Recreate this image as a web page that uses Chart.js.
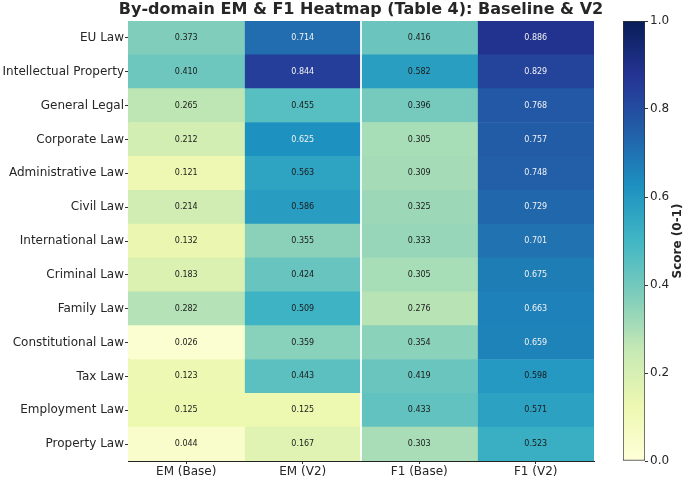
<!DOCTYPE html>
<html>
<head>
<meta charset="utf-8">
<script src="https://cdn.jsdelivr.net/npm/chart.js@4.4.0/dist/chart.umd.min.js"></script>
<style>
  body { margin: 0; background: #fff; }
  #wrap { position: relative; width: 685px; height: 479px; }
  #heat { position: absolute; left: 0; top: 0; }
  #cbar { position: absolute; left: 595px; top: 0; }
</style>
</head>
<body>
<div id="wrap">
  <canvas id="heat" width="685" height="479"></canvas>
  <canvas id="cbar" width="90" height="479"></canvas>
</div>
<script>
// data
const domains = ["EU Law", "Intellectual Property", "General Legal", "Corporate Law",
  "Administrative Law", "Civil Law", "International Law", "Criminal Law", "Family Law",
  "Constitutional Law", "Tax Law", "Employment Law", "Property Law"];
const colLabels = ["EM (Base)", "EM (V2)", "F1 (Base)", "F1 (V2)"];
const emBase = [0.373, 0.410, 0.265, 0.212, 0.121, 0.214, 0.132, 0.183, 0.282, 0.026, 0.123, 0.125, 0.044];
const emV2   = [0.714, 0.844, 0.455, 0.625, 0.563, 0.586, 0.355, 0.424, 0.509, 0.359, 0.443, 0.125, 0.167];
const f1Base = [0.416, 0.582, 0.396, 0.305, 0.309, 0.325, 0.333, 0.305, 0.276, 0.354, 0.419, 0.433, 0.303];
const f1V2   = [0.886, 0.829, 0.768, 0.757, 0.748, 0.729, 0.701, 0.675, 0.663, 0.659, 0.598, 0.571, 0.523];
const columns = [emBase, emV2, f1Base, f1V2];
const cbarTicks = [0, 0.2, 0.4, 0.6, 0.8, 1.0];

const FONT = "'DejaVu Sans', sans-serif";
const TXT = '#262626';

// YlGnBu colormap
const ylgnbu = ['#ffffd9', '#edf8b1', '#c7e9b4', '#7fcdbb', '#41b6c4', '#1d91c0', '#225ea8', '#253494', '#081d58'];
function hex2rgb(h) {
  return [parseInt(h.slice(1, 3), 16), parseInt(h.slice(3, 5), 16), parseInt(h.slice(5, 7), 16)];
}
function cmap(v) {
  const t = Math.min(Math.max(v, 0), 1) * (ylgnbu.length - 1);
  const i = Math.min(Math.floor(t), ylgnbu.length - 2);
  const f = t - i;
  const a = hex2rgb(ylgnbu[i]), b = hex2rgb(ylgnbu[i + 1]);
  const c = a.map((x, k) => Math.round(x + (b[k] - x) * f));
  return `rgb(${c[0]},${c[1]},${c[2]})`;
}

// cell value labels
const cellText = {
  id: 'cellText',
  afterDatasetsDraw(chart) {
    const ctx = chart.ctx;
    ctx.save();
    ctx.font = '8px ' + FONT;
    ctx.textAlign = 'center';
    ctx.textBaseline = 'middle';
    chart.data.datasets.forEach((ds, j) => {
      chart.getDatasetMeta(j).data.forEach((bar, i) => {
        const v = ds.values[i];
        const p = bar.getCenterPoint();
        ctx.fillStyle = v > 0.6 ? '#f2f2f2' : '#1a1a1a';
        ctx.fillText(v.toFixed(3), p.x, p.y);
      });
    });
    ctx.restore();
  }
};

// white divider between EM and F1 blocks
const divider = {
  id: 'divider',
  afterDatasetsDraw(chart) {
    const ctx = chart.ctx, a = chart.chartArea;
    const x = chart.scales.x.getPixelForValue(2);
    ctx.save();
    ctx.strokeStyle = 'rgba(255,255,255,0.9)';
    ctx.lineWidth = 2;
    ctx.beginPath();
    ctx.moveTo(x, a.top);
    ctx.lineTo(x, a.bottom);
    ctx.stroke();
    ctx.restore();
  }
};

// title centred over the plot area (not the whole canvas)
const plotTitle = {
  id: 'plotTitle',
  afterDraw(chart) {
    const ctx = chart.ctx, a = chart.chartArea;
    ctx.save();
    ctx.font = 'bold 16px ' + FONT;
    ctx.fillStyle = TXT;
    ctx.textAlign = 'center';
    ctx.textBaseline = 'middle';
    ctx.fillText('By-domain EM & F1 Heatmap (Table 4): Baseline & V2', (a.left + a.right) / 2, 9.5);
    ctx.restore();
  }
};

new Chart(document.getElementById('heat'), {
  type: 'bar',
  data: {
    labels: domains,
    datasets: columns.map((vals, j) => ({
      label: colLabels[j],
      data: domains.map(() => [j, j + 1]),
      values: vals,
      backgroundColor: vals.map(cmap),
      borderWidth: 0,
      barPercentage: 1,
      categoryPercentage: 1,
      grouped: false
    }))
  },
  options: {
    indexAxis: 'y',
    responsive: false,
    animation: false,
    layout: { padding: { left: 0, right: 91, top: 21, bottom: 0 } },
    plugins: {
      legend: { display: false },
      tooltip: { enabled: false },
      title: { display: false }
    },
    scales: {
      x: {
        type: 'linear',
        min: 0,
        max: 4,
        afterBuildTicks: s => { s.ticks = colLabels.map((_, i) => ({ value: i + 0.5 })); },
        afterFit: s => { s.height = 18; },
        ticks: {
          autoSkip: false,
          maxRotation: 0,
          padding: 1,
          color: TXT,
          font: { family: FONT, size: 12 },
          callback: (v, i) => colLabels[i]
        },
        grid: { color: 'rgba(255,255,255,0.15)', tickColor: '#333', tickLength: 3 },
        border: { display: true, color: '#222', width: 1 }
      },
      y: {
        type: 'category',
        afterFit: s => { s.width = 128; },
        ticks: { padding: 1, color: TXT, font: { family: FONT, size: 12 } },
        grid: { offset: false, color: 'rgba(255,255,255,0.15)', tickColor: '#333', tickLength: 3 },
        border: { display: true, color: '#222', width: 1 }
      }
    }
  },
  plugins: [cellText, divider, plotTitle]
});

// colorbar label, reads bottom to top
const scoreTitle = {
  id: 'scoreTitle',
  afterDraw(chart) {
    const ctx = chart.ctx, a = chart.chartArea;
    ctx.save();
    ctx.translate(83, (a.top + a.bottom) / 2);
    ctx.rotate(-Math.PI / 2);
    ctx.font = 'bold 12px ' + FONT;
    ctx.fillStyle = TXT;
    ctx.textAlign = 'center';
    ctx.textBaseline = 'middle';
    ctx.fillText('Score (0-1)', 0, 0);
    ctx.restore();
  }
};

new Chart(document.getElementById('cbar'), {
  type: 'bar',
  data: {
    labels: [''],
    datasets: [{
      data: [[0, 1]],
      backgroundColor: c => {
        const a = c.chart.chartArea;
        if (!a) return ylgnbu[4];
        const g = c.chart.ctx.createLinearGradient(0, a.bottom, 0, a.top);
        ylgnbu.forEach((col, i) => g.addColorStop(i / (ylgnbu.length - 1), col));
        return g;
      },
      borderColor: '#333',
      borderWidth: 1,
      borderSkipped: false,
      barPercentage: 1,
      categoryPercentage: 1
    }]
  },
  options: {
    responsive: false,
    animation: false,
    layout: { padding: { left: 28, right: 0, top: 21, bottom: 18 } },
    plugins: { legend: { display: false }, tooltip: { enabled: false } },
    scales: {
      x: { display: false },
      y: {
        position: 'right',
        min: 0,
        max: 1,
        afterBuildTicks: s => { s.ticks = cbarTicks.map(v => ({ value: v })); },
        afterFit: s => { s.width = 40; },
        ticks: { padding: 2, color: TXT, font: { family: FONT, size: 12 }, callback: v => v.toFixed(1) },
        grid: { drawOnChartArea: false, tickLength: 3, tickColor: '#333' },
        border: { display: false }
      }
    }
  },
  plugins: [scoreTitle]
});
</script>
</body>
</html>
